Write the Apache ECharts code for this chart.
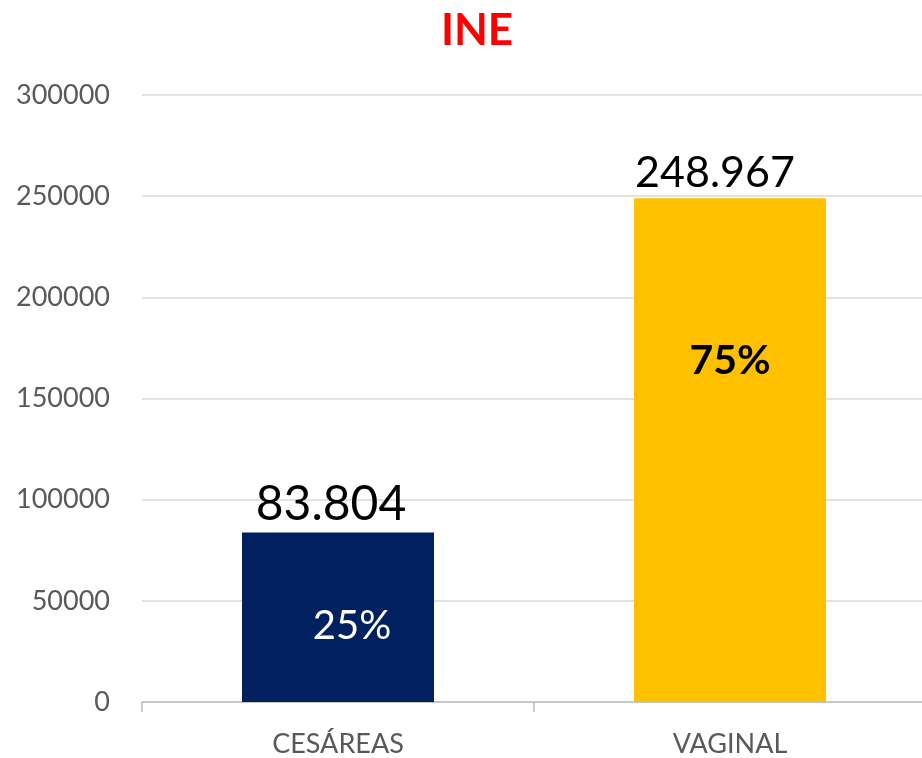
<!DOCTYPE html>
<html>
<head>
  <meta charset="utf-8">
  <title>INE</title>
  <script src="https://fastly.jsdelivr.net/npm/echarts@6/dist/echarts.min.js"></script>
</head>
<body style="margin:0;background:#fff;overflow:hidden">
<div id="main" style="width:926px;height:758px;"></div>
<script type="text/javascript">
  var categories = ['CESÁREAS', 'VAGINAL'];
  var values = [83804, 248967];
  var valueLabels = ['83.804', '248.967'];
  var percents = ['25%', '75%'];
  var barColors = ['#002060', '#FFC000'];

  var myChart = echarts.init(document.getElementById('main'));

  // percent label look per bar
  var pctStyle = [
    { color: '#fff', fontWeight: 'normal', fontSize: 40, offset: [14, 9] },
    { color: '#000', fontWeight: 'bold', fontSize: 41, offset: [0, -89] }
  ];
  var topStyle = [
    { fontSize: 48, offset: [-7, 0] },
    { fontSize: 43, offset: [-15, 0] }
  ];

  var mainData = values.map(function (v, i) {
    return {
      value: v,
      itemStyle: { color: barColors[i] },
      label: { fontSize: topStyle[i].fontSize, offset: topStyle[i].offset }
    };
  });
  var pctData = values.map(function (v, i) {
    return {
      value: v,
      label: {
        show: true,
        position: 'inside',
        formatter: percents[i],
        color: pctStyle[i].color,
        fontWeight: pctStyle[i].fontWeight,
        fontSize: pctStyle[i].fontSize,
        offset: pctStyle[i].offset
      }
    };
  });

  var option = {
    title: {
      text: 'INE',
      left: 472,
      textAlign: 'center',
      top: 4,
      textStyle: { color: '#FF0000', fontSize: 44, fontWeight: 'bold', fontFamily: 'Lato' }
    },
    grid: { left: 142, right: 0, top: 95, bottom: 55 },
    xAxis: {
      type: 'category',
      data: categories,
      axisLine: { lineStyle: { color: '#BFBFBF', width: 1.5 } },
      axisTick: { show: true, length: 10, lineStyle: { color: '#BFBFBF', width: 1.5 } },
      axisLabel: { color: '#595959', fontSize: 27, fontFamily: 'Lato', margin: 29 }
    },
    yAxis: {
      type: 'value',
      min: 0,
      max: 300000,
      interval: 50000,
      axisLine: { show: false },
      axisTick: { show: false },
      splitLine: { lineStyle: { color: '#D9D9D9', width: 1.5 } },
      axisLabel: {
        color: '#595959', fontSize: 27, fontFamily: 'Lato', margin: 32,
        formatter: function (v) { return String(v); }
      }
    },
    series: [
      {
        type: 'bar',
        barWidth: 192,
        data: mainData,
        label: {
          show: true,
          position: 'top',
          distance: 4,
          fontFamily: 'Lato',
          color: '#000',
          formatter: function (p) { return valueLabels[p.dataIndex]; }
        },
        z: 2
      },
      {
        type: 'bar',
        barWidth: 192,
        barGap: '-100%',
        itemStyle: { color: 'transparent' },
        label: { fontFamily: 'Lato' },
        data: pctData,
        z: 3
      }
    ]
  };

  myChart.setOption(option);
</script>
</body>
</html>
